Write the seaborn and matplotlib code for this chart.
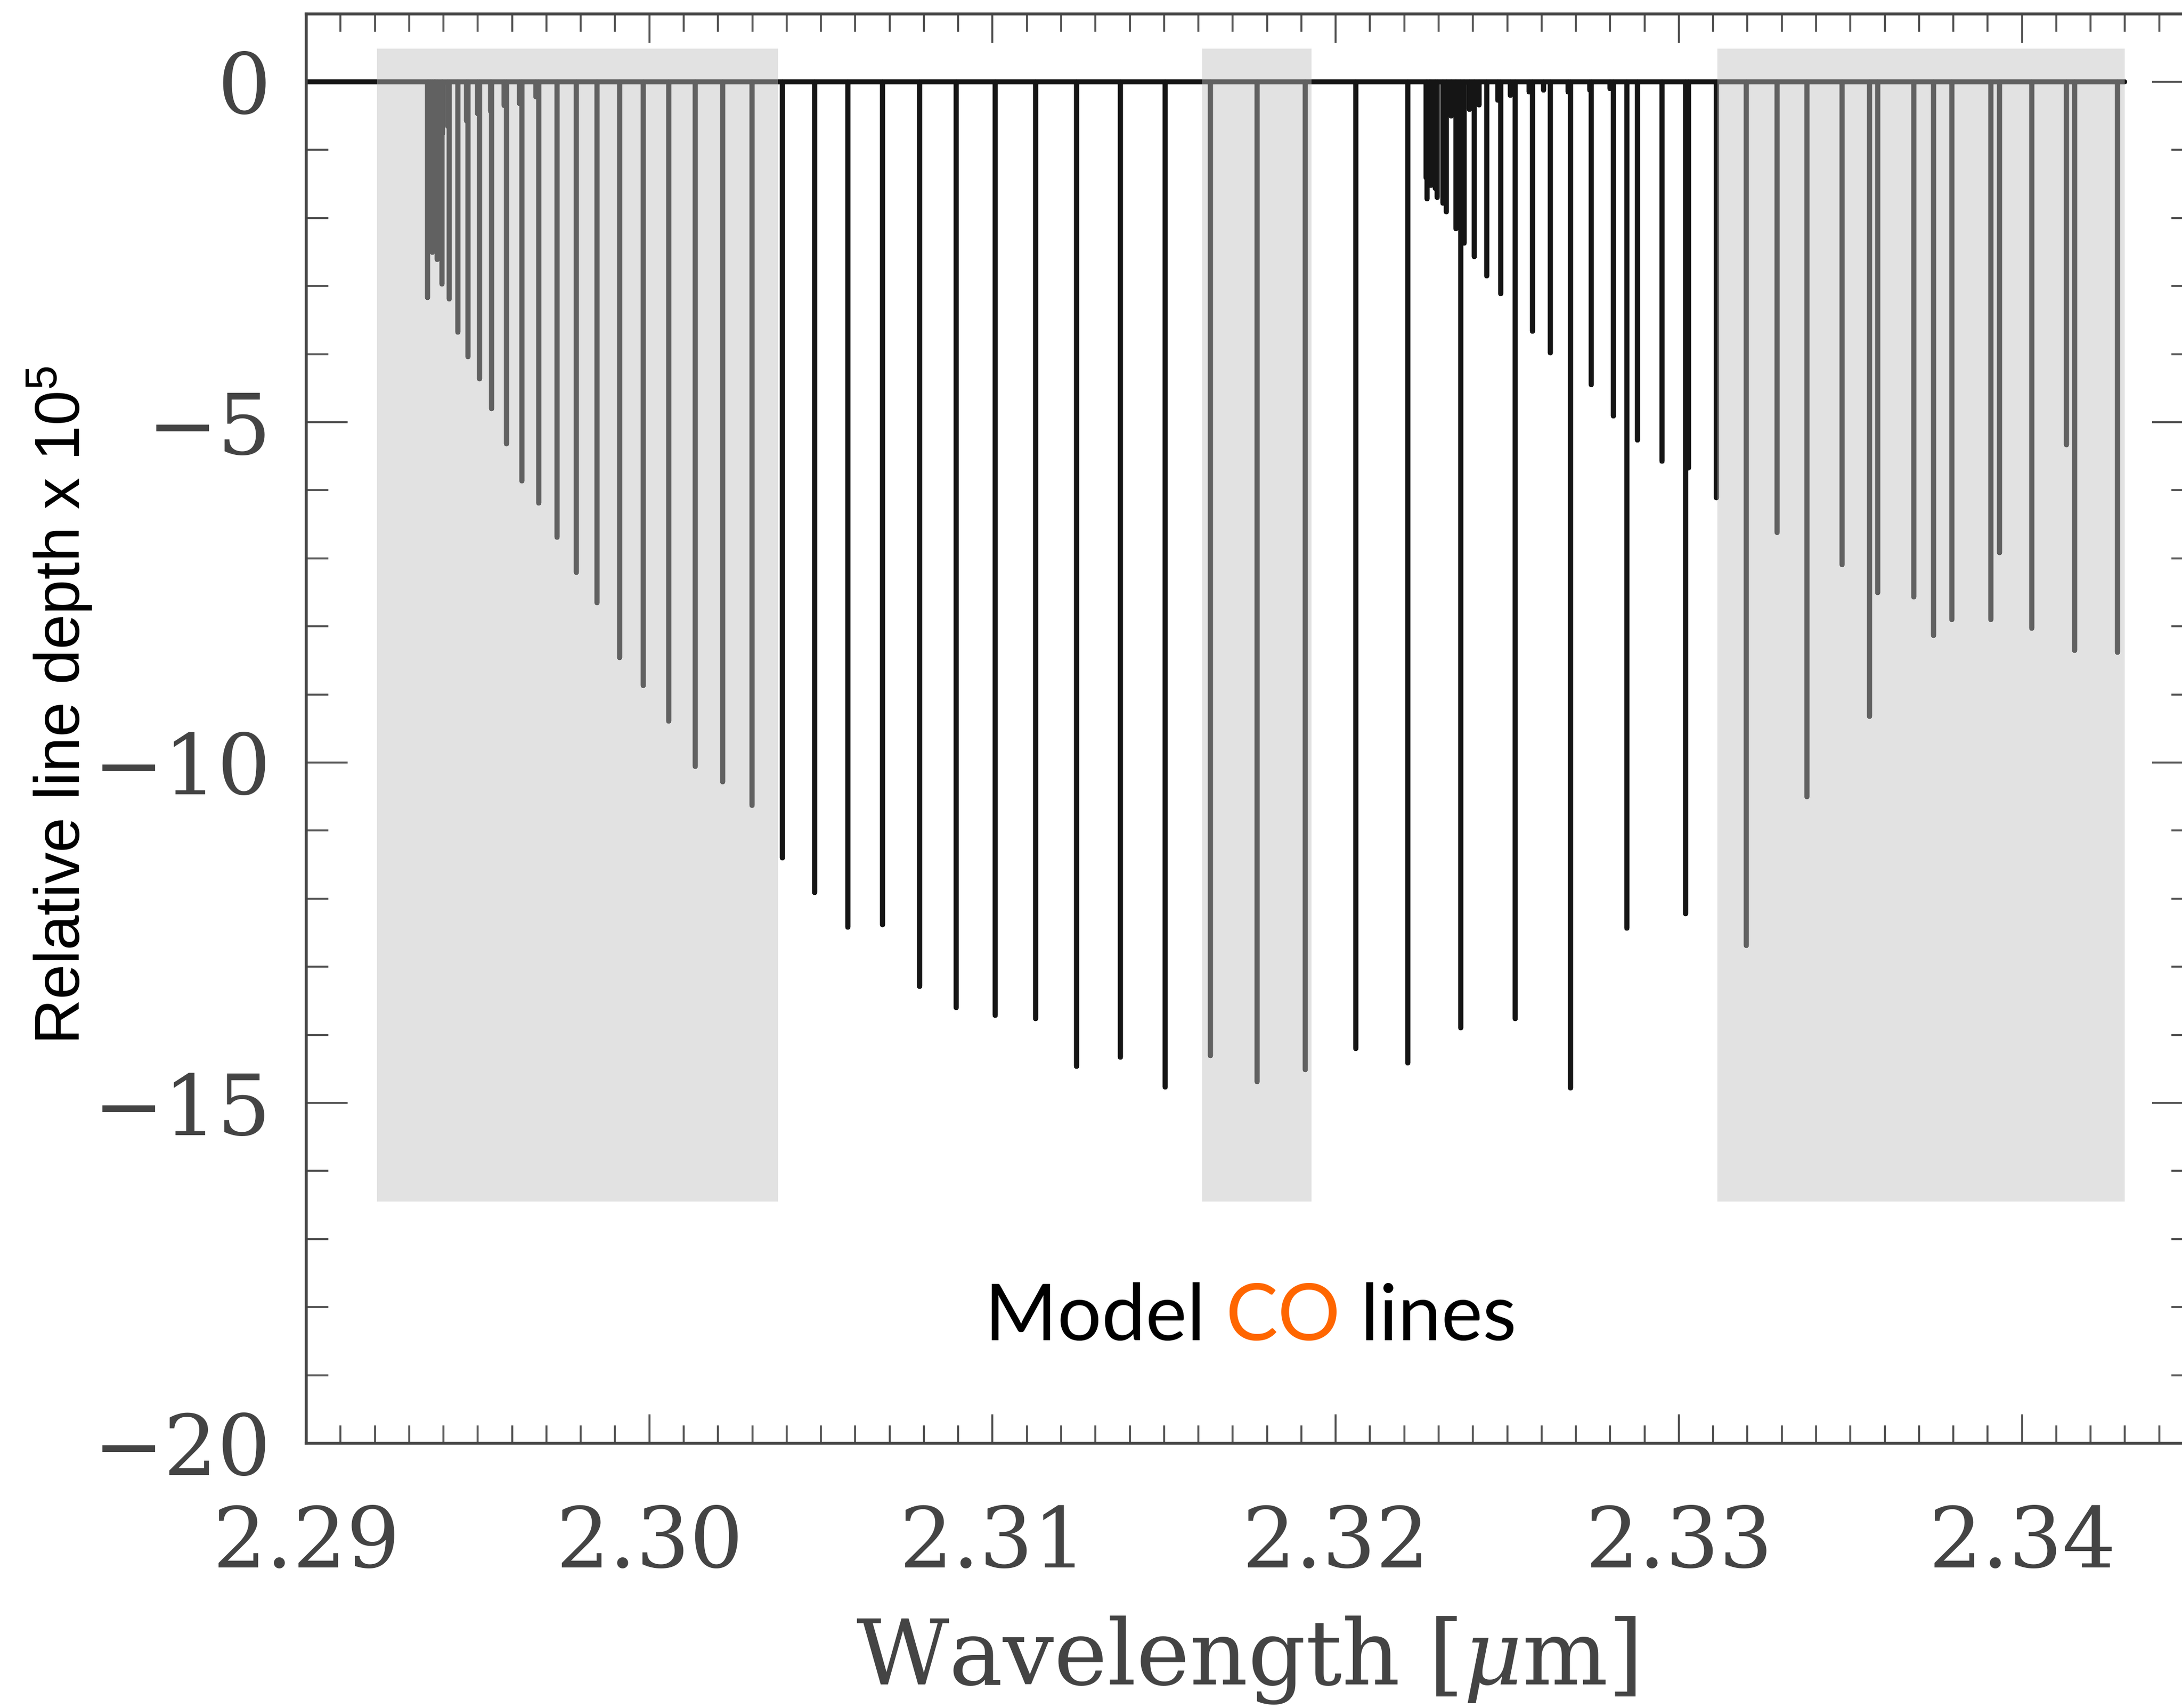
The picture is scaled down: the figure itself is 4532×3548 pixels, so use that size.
import numpy as np
import pandas as pd
import matplotlib
matplotlib.use("Agg")
import matplotlib.pyplot as plt
import seaborn as sns
from matplotlib.ticker import MultipleLocator, FixedLocator, FuncFormatter

# ---------------- data ----------------
# v=2-0 band (wavelength in micron, relative line depth x 1e5)
band20_wl = [2.29353, 2.29356, 2.29360, 2.29364, 2.29368, 2.29373, 2.29377, 2.29382,
             2.29396, 2.29417, 2.29442, 2.29472, 2.29505, 2.29540, 2.29584, 2.29628,
             2.29677, 2.29731, 2.29787, 2.29847, 2.29913, 2.29982, 2.30057, 2.30133,
             2.30213, 2.30299, 2.30388, 2.30481, 2.30578, 2.30679, 2.30787, 2.30894,
             2.31008, 2.31126, 2.31245, 2.31373, 2.31503, 2.31635, 2.31771, 2.31912,
             2.32059, 2.32210, 2.32365, 2.32523, 2.32684, 2.32849, 2.33020, 2.33196,
             2.33374, 2.33556, 2.33743, 2.33935, 2.34130]
band20_depth = [-3.17, -2.40, -2.25, -2.46, -2.50, -2.30, -2.10, -2.61,
                -2.97, -3.19, -3.68, -4.04, -4.36, -4.80, -5.32, -5.86,
                -6.19, -6.69, -7.21, -7.65, -8.46, -8.87, -9.39, -10.06,
                -10.28, -10.63, -11.40, -11.91, -12.42, -12.38, -13.29, -13.60,
                -13.71, -13.76, -14.46, -14.33, -14.77, -14.31, -14.69, -14.51,
                -14.20, -14.41, -13.90, -13.76, -14.78, -12.43, -12.22, -12.69,
                -10.50, -9.32, -8.13, -6.92, -5.33]

# v=3-1 band
band31_wl = [2.32264, 2.32267, 2.32273, 2.32278, 2.32290, 2.32296, 2.32312, 2.32323,
             2.32351, 2.32374, 2.32404, 2.32441, 2.32481, 2.32523, 2.32574, 2.32626,
             2.32745, 2.32810, 2.32879, 2.32951, 2.33028, 2.33109, 2.33286, 2.33374,
             2.33476, 2.33579, 2.33685, 2.33795, 2.33909, 2.34029, 2.34153, 2.34279]
band31_depth = [-1.41, -1.72, -1.41, -1.52, -1.56, -1.70, -1.78, -1.91,
                -2.16, -2.37, -2.57, -2.85, -3.11, -3.30, -3.66, -3.98,
                -4.45, -4.91, -5.26, -5.57, -5.67, -6.11, -6.62, -6.89,
                -7.09, -7.50, -7.57, -7.90, -7.90, -8.03, -8.35, -8.38]

# weak lines
weak_wl = [2.29374, 2.29397, 2.29413, 2.29467, 2.29500, 2.29537, 2.29577, 2.29622, 2.29669,
           2.32337, 2.32390, 2.32418, 2.32472, 2.32509, 2.32564, 2.32606, 2.32678, 2.32740, 2.32800]
weak_depth = [-0.92, -0.76, -0.65, -0.57, -0.47, -0.43, -0.35, -0.32, -0.22,
              -0.50, -0.40, -0.34, -0.27, -0.20, -0.15, -0.12, -0.15, -0.12, -0.10]

continuum_range = [2.2900, 2.3430]

# shaded windows (wavelength start, end) and vertical extent
shade_start = [2.29206, 2.31611, 2.33113]
shade_end = [2.30375, 2.31929, 2.34299]
shade_ylim = [-16.45, 0.49]

x_ticks = [2.29, 2.30, 2.31, 2.32, 2.33, 2.34]
y_ticks = [0, -5, -10, -15, -20]

# ---------------- build stick spectrum ----------------
lines = pd.DataFrame({
    "wl": band20_wl + band31_wl + weak_wl,
    "depth": band20_depth + band31_depth + weak_depth,
}).sort_values("wl").reset_index(drop=True)

xs = [continuum_range[0]]
ys = [0.0]
for w, d in zip(lines["wl"], lines["depth"]):
    xs += [w, w, w]
    ys += [0.0, d, 0.0]
xs.append(continuum_range[1])
ys.append(0.0)
spec = pd.DataFrame({"Wavelength": xs, "Depth": ys})

# ---------------- plot ----------------
sns.set_theme(style="ticks")
plt.rcParams["font.family"] = ["DejaVu Serif"]
plt.rcParams["mathtext.fontset"] = "custom"
plt.rcParams["mathtext.rm"] = "Liberation Sans"
plt.rcParams["mathtext.it"] = "DejaVu Serif:italic"

W, H, DPI = 4532, 3548, 300
fig = plt.figure(figsize=(W / DPI, H / DPI), dpi=DPI)
ax = fig.add_axes([636 / W, 1 - 2998 / H, 3920 / W, (2998 - 28.6) / H])

sns.lineplot(data=spec, x="Wavelength", y="Depth", sort=False, estimator=None,
             color="#151515", linewidth=2.5, ax=ax, zorder=2)

for x0, x1 in zip(shade_start, shade_end):
    ax.fill_between([x0, x1], shade_ylim[0], shade_ylim[1], color="#c0c0c0",
                    alpha=0.45, linewidth=0, zorder=3)

ax.set_xlim(2.29, 2.345)
ax.set_ylim(-20, 1)

ax.xaxis.set_major_locator(FixedLocator(x_ticks))
ax.xaxis.set_minor_locator(MultipleLocator(0.001))
ax.yaxis.set_major_locator(FixedLocator(y_ticks))
ax.yaxis.set_minor_locator(MultipleLocator(1))
ax.xaxis.set_major_formatter(FuncFormatter(lambda v, p: f"{v:.2f}"))
ax.yaxis.set_major_formatter(FuncFormatter(lambda v, p: f"{v:.0f}".replace("-", "\u2212")))

ax.tick_params(which="both", direction="in", top=True, right=True,
               color="#555555", labelcolor="#444444", labelsize=42)
ax.tick_params(axis="x", which="major", length=14.4, width=1.0, pad=30)
ax.tick_params(axis="x", which="minor", length=8.9, width=1.0)
ax.tick_params(axis="y", which="major", length=20.6, width=1.0, pad=17.5)
ax.tick_params(axis="y", which="minor", length=11, width=1.0)
for s in ax.spines.values():
    s.set_linewidth(1.5)
    s.set_color("#444444")
    s.set_zorder(5)

ax.set_xlabel("Wavelength [$\\mu$m]", fontsize=45, color="#444444")
ax.xaxis.label.set_va("baseline")
ax.xaxis.set_label_coords((2588 - 636) / 3920, -(3499 - 2998) / 2969.4)

ax.set_ylabel("Relative line depth x 10$^5$", fontsize=31.4, color="black",
              family=["Liberation Sans"])
ax.yaxis.label.set_va("baseline")
ax.yaxis.set_label_coords((166 - 636) / 3920, (2998 - 1465) / 2969.4)

# annotation "Model CO lines" with coloured CO
t1 = ax.text(2.30977, -18.49, "Model ", fontsize=39, color="black",
             family=["Lato"], va="baseline", ha="left", zorder=6)
t2 = ax.annotate("CO", xy=(1, 0), xycoords=t1, va="bottom", ha="left",
                 fontsize=39, color="#FF6600", family=["Lato"], zorder=6)
t3 = ax.annotate(" lines", xy=(1, 0), xycoords=t2, va="bottom", ha="left",
                 fontsize=39, color="black", family=["Lato"], zorder=6)

fig.savefig("out.png", dpi=DPI)
